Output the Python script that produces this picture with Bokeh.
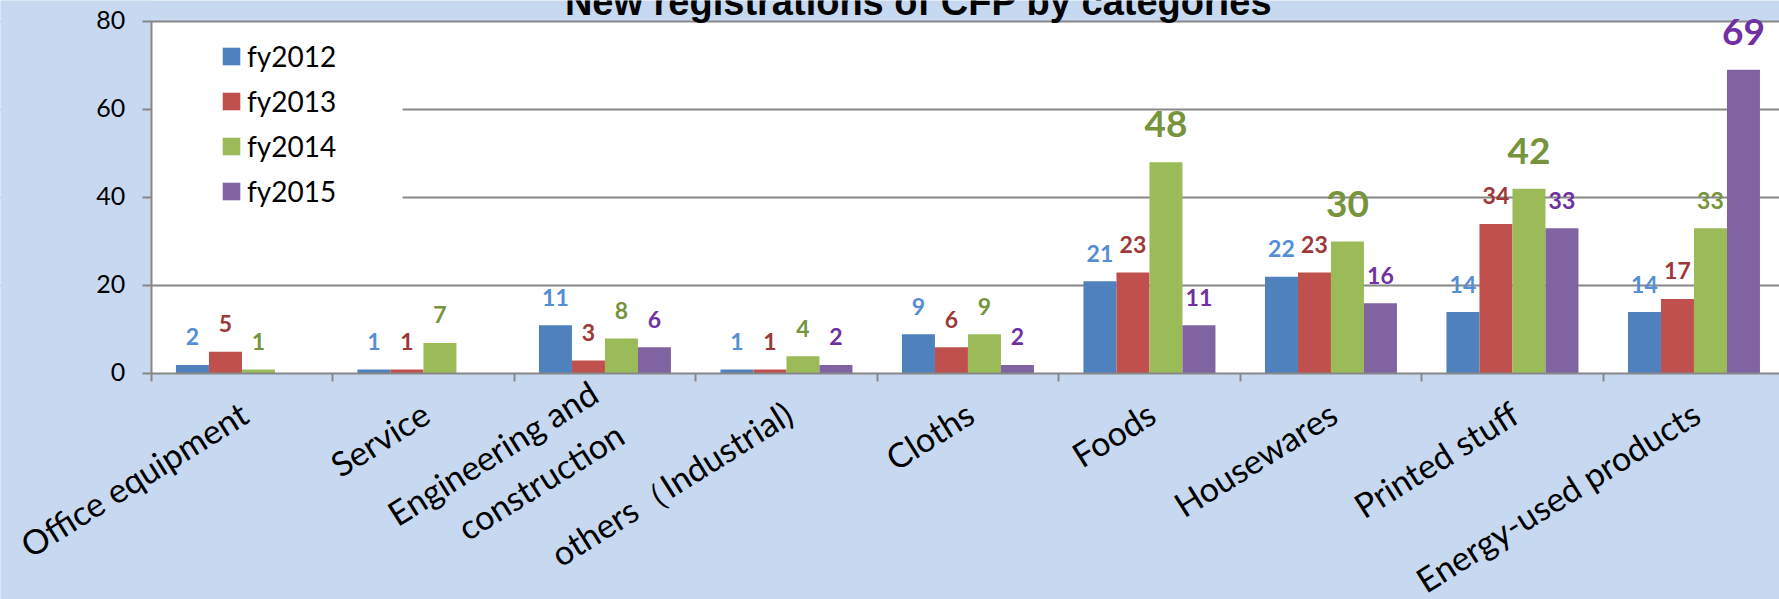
import math
import numpy as np
from bokeh.plotting import figure
from bokeh.models import (ColumnDataSource, Range1d, FixedTicker, LinearAxis, Grid,
                          Legend, LegendItem, BoxAnnotation, Label)
from bokeh.core.properties import value
from bokeh.embed import file_html
from bokeh.resources import INLINE

# ---------------- data ----------------
title_text = "New registrations of CFP by categories"
categories = ["Office equipment", "Service", "Engineering and\nconstruction",
              "others\uff08Industrial)", "Cloths", "Foods", "Housewares",
              "Printed stuff", "Energy-used products"]
series_names = ["fy2012", "fy2013", "fy2014", "fy2015"]
fy2012 = [2, 1, 11, 1, 9, 21, 22, 14, 14]
fy2013 = [5, 1, 3, 1, 6, 23, 23, 34, 17]
fy2014 = [1, 7, 8, 4, 9, 48, 30, 42, 33]
fy2015 = [0, 0, 6, 2, 2, 11, 16, 33, 69]
y_ticks = [0, 20, 40, 60, 80]
y_tick_labels = ["0", "20", "40", "60", "80"]
# data labels shown large: (series index, category index)
big_labels = [(2, 5), (2, 6), (2, 7), (3, 8)]

# ---------------- style ----------------
BG = "#C6D9F1"
GRAY = "#878787"
bar_colors = ["#4F81BD", "#C0504D", "#9BBB59", "#8064A2"]
label_colors = ["#558ED5", "#9E3838", "#77933C", "#7030A0"]
FONT = "Lato"

series = [fy2012, fy2013, fy2014, fy2015]
n = len(categories)
bar_w = 1 / 5.5

# The frame covers the whole canvas; the white plot area is x >= 0, 0 <= y <= 80.
p = figure(width=1779, height=599, output_backend="svg", toolbar_location=None,
           x_range=Range1d(-0.8303, 8.9713), y_range=Range1d(-51.21, 84.70),
           x_axis_type=None, y_axis_type=None,
           min_border_left=0, min_border_right=0, min_border_top=0,
           min_border_bottom=0,
           background_fill_color=BG, border_fill_color=BG,
           outline_line_color=None)

p.add_layout(BoxAnnotation(left=0, bottom=0, top=80, fill_color="white",
                           fill_alpha=1, line_color=None, level="underlay"))

grid = Grid(dimension=1, ticker=FixedTicker(ticks=y_ticks[1:]),
            grid_line_color=GRAY, grid_line_width=2)
p.add_layout(grid)
# keep the grid lines out of the margin left of the value axis
p.add_layout(BoxAnnotation(right=0, fill_color=BG, fill_alpha=1,
                           line_color=None, level="underlay"))
# white backing of the legend (hides grid lines behind it)
p.add_layout(BoxAnnotation(left=0, right=1.385, bottom=30, top=78,
                           fill_color="white", fill_alpha=1, line_color=None,
                           level="underlay"))

# value axis: drawn at x = 0, ticks pointing left
yax = LinearAxis(fixed_location=0, ticker=FixedTicker(ticks=y_ticks),
                 bounds=(0, 80),
                 major_label_text_font_size="0px", major_label_text_alpha=0,
                 major_label_standoff=0,
                 major_tick_out=0, major_tick_in=9,
                 major_tick_line_color=GRAY, major_tick_line_width=2,
                 minor_tick_line_color=None,
                 axis_line_color=GRAY, axis_line_width=2)
p.add_layout(yax, "right")

# category axis: drawn at y = 0, tick marks between categories pointing down
bounds = list(range(n + 1))
xax = LinearAxis(fixed_location=0, bounds=(0, n),
                 ticker=FixedTicker(ticks=[], minor_ticks=bounds),
                 major_tick_line_color=None, major_tick_out=0, major_tick_in=0,
                 minor_tick_line_color=GRAY, minor_tick_line_width=2,
                 minor_tick_out=0, minor_tick_in=8,
                 axis_line_color=GRAY, axis_line_width=2,
                 major_label_standoff=0, major_label_text_font_size="0px")
p.add_layout(xax, "above")

# value tick labels
ysrc = ColumnDataSource(dict(x=[0] * len(y_ticks), y=y_ticks, text=y_tick_labels))
p.text(x="x", y="y", text="text", source=ysrc, text_align="right",
       text_baseline="alphabetic", x_offset=-26, y_offset=-1.5,
       text_font=value(FONT), text_font_size="25px", text_color="black")

# category names, rotated, under the axis
centers = [i + 0.5 for i in range(n)]
csrc = ColumnDataSource(dict(x=centers, y=[0] * n, text=categories))
p.text(x="x", y="y", text="text", source=csrc, angle=math.radians(32),
       text_align="right", text_baseline="alphabetic",
       x_offset=2, y_offset=36,
       text_font=value(FONT), text_font_size="34px", text_color="black")

renderers = []
lab_x, lab_y, lab_t, lab_c, lab_s, lab_o = [], [], [], [], [], []
for j, vals in enumerate(series):
    xs = np.arange(n) + 0.5 + (j - 1.5) * bar_w
    src = ColumnDataSource(dict(x=xs, top=vals, cat=categories))
    r = p.vbar(x="x", top="top", width=bar_w, source=src,
               fill_color=bar_colors[j], line_color=None)
    renderers.append(r)
    for i, v in enumerate(vals):
        if v == 0:
            continue
        big = (j, i) in big_labels
        lab_x.append(xs[i]); lab_y.append(v); lab_t.append(str(v))
        lab_c.append(label_colors[j])
        lab_s.append("37px" if big else "23px")
        lab_o.append(-38 if big else -28)

lsrc = ColumnDataSource(dict(x=lab_x, y=lab_y, text=lab_t, color=lab_c,
                             size=lab_s, off=lab_o))
p.text(x="x", y="y", text="text", source=lsrc, text_color="color",
       text_font=value(FONT), text_font_style="bold", text_font_size="size",
       y_offset="off", text_align="center", text_baseline="alphabetic")

legend = Legend(items=[LegendItem(label=s, renderers=[r])
                       for s, r in zip(series_names, renderers)],
                location=(220, 391), orientation="vertical",
                padding=0, margin=0, spacing=11,
                glyph_width=22, glyph_height=22, label_standoff=5,
                label_text_font=FONT, label_text_font_size="28px",
                label_text_color="black",
                background_fill_alpha=0, border_line_color=None)
p.add_layout(legend)

p.add_layout(Label(x=4.228, y=84.47, text=title_text,
                   text_font="Liberation Sans",
                   text_font_style="bold", text_font_size="38px",
                   text_color="black", text_align="center",
                   text_baseline="alphabetic"))

open("out.html", "w").write(file_html(p, INLINE))
